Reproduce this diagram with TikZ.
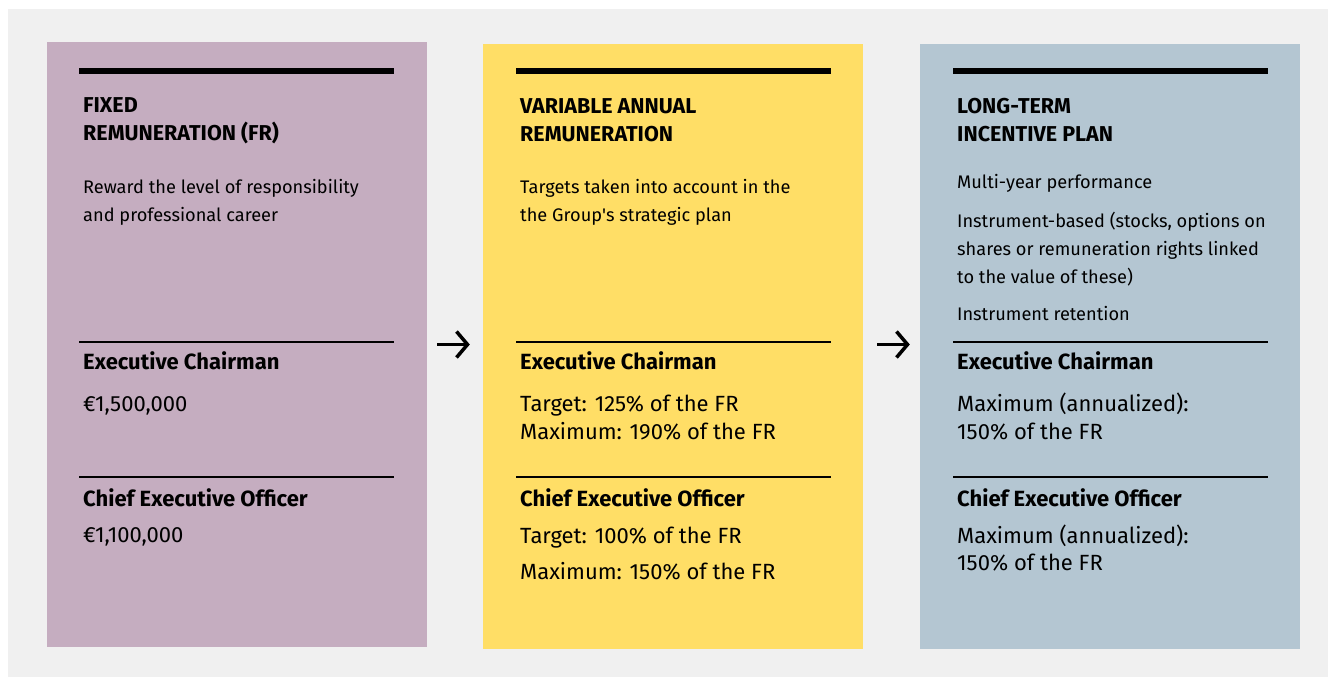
\documentclass[tikz,border=0pt]{standalone}
\usepackage{fontspec}
\setmainfont{Fira Sans}
\usetikzlibrary{arrows.meta,positioning}

\definecolor{fixedcol}{HTML}{C5ADC0}
\definecolor{varcol}{HTML}{FFDE66}
\definecolor{ltipcol}{HTML}{B4C6D2}
\definecolor{bgcol}{HTML}{F0F0F0}

\begin{document}
\begin{tikzpicture}[
    x=1pt, y=-1pt,
    panel/.style={rectangle, minimum width=380pt, minimum height=605pt, inner sep=0pt},
    topbar/.style={line width=6pt},
    divider/.style={line width=2.5pt},
    title/.style={font=\bfseries\fontsize{21.5}{28}\selectfont, anchor=base west, inner sep=0pt, align=left},
    desc/.style={font=\fontsize{18.2}{28}\selectfont, anchor=base west, inner sep=0pt, align=left},
    role/.style={font=\bfseries\fontsize{22}{28}\selectfont, anchor=base west, inner sep=0pt},
    amount/.style={font=\fontsize{22}{28}\selectfont, anchor=base west, inner sep=0pt, align=left},
    flow/.style={line width=3.5pt, -{Straight Barb[length=11pt, width=26pt]}}
]

% Background
\useasboundingbox (0,0) rectangle (1328,677);
\fill[white] (0,0) rectangle (1328,677);
\fill[bgcol] (8,9) rectangle (1328,677);

% Panels
\node[panel, fill=fixedcol] (fixed) at (237,344.5) {};
\node[panel, fill=varcol] (variable) at (673,346.5) {};
\node[panel, fill=ltipcol] (ltip) at (1110,346.5) {};

% Bars and dividers
\foreach \x in {79,516,953} {
    \draw[topbar] (\x,71) -- +(315,0);
    \draw[divider] (\x,342) -- +(315,0);
    \draw[divider] (\x,477) -- +(315,0);
}

% Arrows between panels
\draw[flow, shorten <=10pt, shorten >=13pt] (fixed.east) -- (fixed.east -| variable.west);
\draw[flow, shorten <=14pt, shorten >=10pt] (variable.east |- fixed.east) -- (fixed.east -| ltip.west);

% Fixed remuneration (anchors sit on the last baseline)
\node[title] (fixedtitle) at (83,140) {FIXED\\REMUNERATION (FR)};
\node[desc] (fixeddesc) at (83,221) {Reward the level of responsibility\\and professional career};
\node[role] (fixedec) at (83,369) {Executive Chairman};
\node[amount] (fixedecval) at (83,411) {€1,500,000};
\node[role] (fixedceo) at (83,506) {Chief Executive Officer};
\node[amount] (fixedceoval) at (83,542) {€1,100,000};

% Variable annual remuneration
\node[title] (vartitle) at (520,141) {VARIABLE ANNUAL\\REMUNERATION};
\node[desc] (vardesc) at (520,221) {Targets taken into account in the\\the Group\textquotesingle s strategic plan};
\node[role] (varec) at (520,369) {Executive Chairman};
\node[amount] (varecval) at (520,439) {Target: 125\% of the FR\\Maximum: 190\% of the FR};
\node[role] (varceo) at (520,506) {Chief Executive Officer};
\node[amount] (varceotarget) at (520,543) {Target: 100\% of the FR};
\node[amount] (varceomax) at (520,579) {Maximum: 150\% of the FR};

% Long-term incentive plan
\node[title] (ltiptitle) at (957,141) {LONG-TERM\\INCENTIVE PLAN};
\node[desc] (ltipperf) at (957,188) {Multi-year performance};
\node[desc] (ltipinst) at (957,283) {Instrument-based (stocks, options on\\shares or remuneration rights linked\\to the value of these)};
\node[desc] (ltipret) at (957,320) {Instrument retention};
\node[role] (ltipec) at (957,369) {Executive Chairman};
\node[amount] (ltipecval) at (957,439) {Maximum (annualized):\\150\% of the FR};
\node[role] (ltipceo) at (957,506) {Chief Executive Officer};
\node[amount, font=\fontsize{22}{27}\selectfont] (ltipceoval) at (957,570) {Maximum (annualized):\\150\% of the FR};

\end{tikzpicture}
\end{document}
